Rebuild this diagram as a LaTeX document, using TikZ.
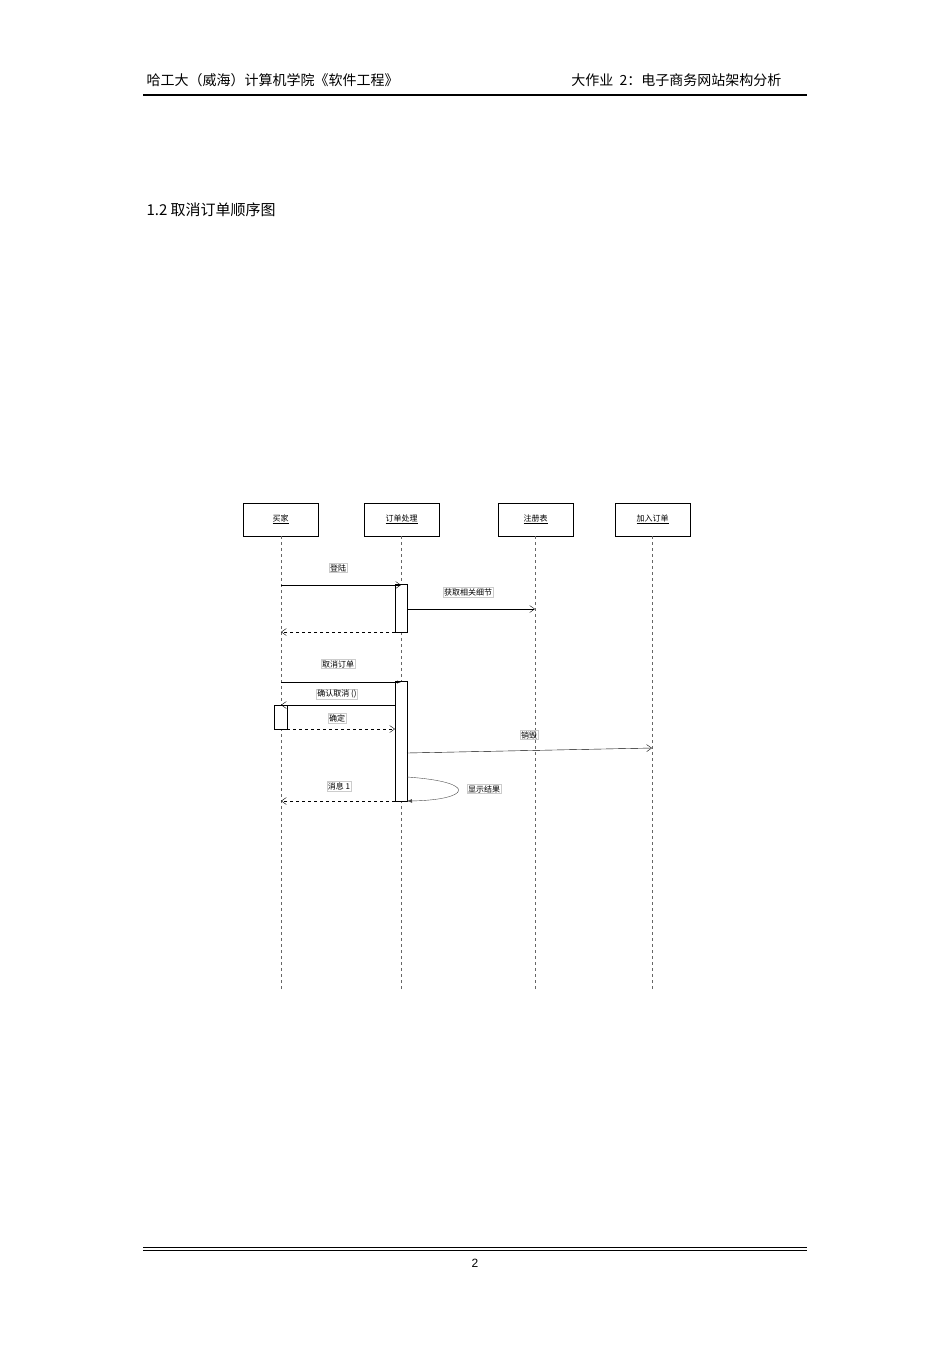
\documentclass[tikz,border=0pt]{standalone}
\usepackage{fontspec}
\setmainfont{Liberation Sans}
\newfontfamily\cjk{Noto Sans CJK SC}
\usetikzlibrary{arrows.meta}
\begin{document}
\begin{tikzpicture}[x=1pt,y=-1pt,
  obj/.style={draw,thick,minimum width=75pt,minimum height=33pt,inner sep=0pt,font=\cjk\fontsize{8}{9}\selectfont},
  life/.style={dashed,thin,gray!80!black},
  act/.style={draw,fill=white,thin},
  msg/.style={-{Straight Barb[length=5pt,width=7pt]},thin},
  ret/.style={dashed,-{Straight Barb[length=5pt,width=7pt]},thin},
  lab/.style={draw=gray!40,inner sep=1pt,font=\cjk\fontsize{8}{9}\selectfont}]
\useasboundingbox (0,0) rectangle (950,1345);
\fill[white] (0,0) rectangle (950,1345);
\node[anchor=west,font=\cjk\fontsize{14}{16}\selectfont] (hl) at (143,80) {哈工大（威海）计算机学院《软件工程》};
\node[anchor=east,font=\cjk\fontsize{14}{16}\selectfont] (hr) at (785,80) {大作业\ \ 2：电子商务网站架构分析};
\draw[line width=1.2pt] (143,95) -- (807,95);
\node[anchor=west,font=\cjk\fontsize{15}{17}\selectfont] (title) at (143,210) {1.2 取消订单顺序图};
\draw[thick] (143,1247) -- (807,1247);
\draw[thin] (143,1250.5) -- (807,1250.5);
\node[font=\fontsize{12}{14}\selectfont] (pg) at (475,1263) {2};
% objects
\node[obj] (b) at (280.5,519.5) {\underline{买家}};
\node[obj] (o) at (401.5,519.5) {\underline{订单处理}};
\node[obj] (r) at (535.5,519.5) {\underline{注册表}};
\node[obj] (j) at (652.5,519.5) {\underline{加入订单}};
\coordinate (be) at (281,990);
\coordinate (oe) at (401,990);
\coordinate (re) at (535,990);
\coordinate (je) at (652,990);
\draw[life] (b.south -| be) -- (be);
\draw[life] (o.south -| oe) -- (oe);
\draw[life] (r.south -| re) -- (re);
\draw[life] (j.south -| je) -- (je);
% activations
\node[act,minimum width=12pt,minimum height=48pt,inner sep=0pt] (a1) at (401,608) {};
\node[act,minimum width=12pt,minimum height=120pt,inner sep=0pt] (a2) at (401,741) {};
\node[act,minimum width=13pt,minimum height=24pt,inner sep=0pt] (a3) at (280.5,717) {};
% messages
\coordinate (m1s) at (281,585); \coordinate (m1e) at (401,585);
\draw[msg] (m1s) -- (m1e);
\node[lab] (l1) at (338,568) {登陆};
\coordinate (m2s) at (407,609); \coordinate (m2e) at (535,609);
\draw[msg] (m2s) -- (m2e);
\node[lab] (l2) at (468,592) {获取相关细节};
\coordinate (m3s) at (395,632); \coordinate (m3e) at (281,632);
\draw[ret] (m3s) -- (m3e);
\coordinate (m4s) at (281,682); \coordinate (m4e) at (401,682);
\draw[-{Latex[length=4pt]},thin] (m4s) -- (m4e);
\node[lab] (l4) at (338,664) {取消订单};
\coordinate (m5s) at (395,705); \coordinate (m5e) at (281,705);
\draw[msg] (m5s) -- (m5e);
\node[lab] (l5) at (337,694) {确认取消\ ()};
\coordinate (m6s) at (287,729); \coordinate (m6e) at (395,729);
\draw[ret] (m6s) -- (m6e);
\node[lab] (l6) at (337,718) {确定};
\coordinate (m7s) at (407,753); \coordinate (m7e) at (652,748);
\draw[msg] (m7s) -- (m7e);
\node[lab] (l7) at (529,735) {销毁};
\coordinate (m8s) at (407,777); \coordinate (m8e) at (407,801);
\draw[-{Latex[length=5pt]},thin,gray!60!black] (m8s) .. controls (480,782) and (470,800) .. (m8e);
\node[lab] (l8) at (484,789) {显示结果};
\coordinate (m9s) at (395,801); \coordinate (m9e) at (281,801);
\draw[ret] (m9s) -- (m9e);
\node[lab] (l9) at (339,786) {消息 1};
\end{tikzpicture}
\end{document}
